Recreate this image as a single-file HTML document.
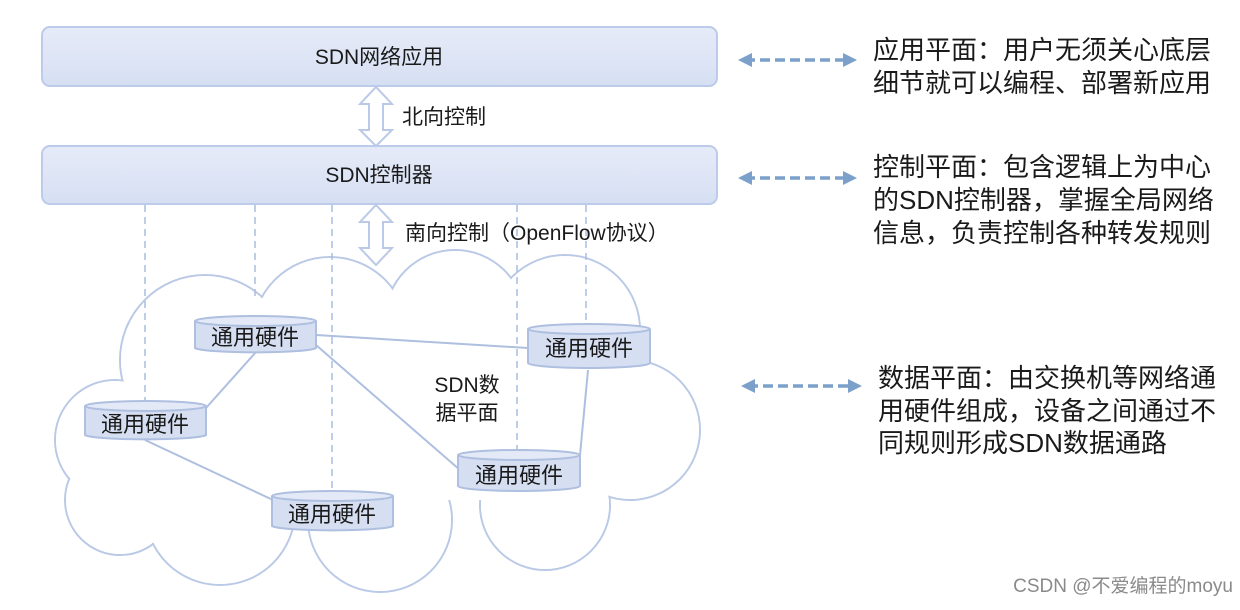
<!DOCTYPE html>
<html><head><meta charset="utf-8"><style>
body{margin:0;background:#fff;}
svg text{font-family:"Liberation Sans","Noto Sans CJK SC",sans-serif;fill:#1a1a1a;}
</style></head><body>
<svg width="1240" height="605" viewBox="0 0 1240 605" xmlns="http://www.w3.org/2000/svg">
<defs>
<linearGradient id="bar" x1="0" y1="0" x2="0" y2="1"><stop offset="0" stop-color="#e6ebf8"/><stop offset="1" stop-color="#d6dff3"/></linearGradient>
<marker id="ah" viewBox="0 0 10 10" refX="5" refY="5" markerWidth="4" markerHeight="4" orient="auto-start-reverse"><path d="M0,0 L10,5 L0,10 z" fill="#7ba0c9"/></marker>
</defs>
<g stroke="#b9c9e6" stroke-width="2" fill="none">
<circle cx="115" cy="440" r="60"/><circle cx="205" cy="360" r="85"/><circle cx="330" cy="335" r="78"/>
<circle cx="455" cy="320" r="70"/><circle cx="565" cy="330" r="75"/><circle cx="630" cy="430" r="70"/>
<circle cx="545" cy="505" r="65"/><circle cx="380" cy="520" r="72"/><circle cx="220" cy="510" r="75"/><circle cx="120" cy="500" r="55"/>
</g>
<g fill="#fff">
<circle cx="115" cy="440" r="59"/><circle cx="205" cy="360" r="84"/><circle cx="330" cy="335" r="77"/>
<circle cx="455" cy="320" r="69"/><circle cx="565" cy="330" r="74"/><circle cx="630" cy="430" r="69"/>
<circle cx="545" cy="505" r="64"/><circle cx="380" cy="520" r="71"/><circle cx="220" cy="510" r="74"/><circle cx="120" cy="500" r="54"/>
<rect x="150" y="350" width="440" height="150"/>
</g>
<g stroke="#a9bde0" stroke-width="1.5" stroke-dasharray="7,5">
<line x1="145" y1="205" x2="145" y2="400"/><line x1="255" y1="205" x2="255" y2="297"/>
<line x1="332" y1="205" x2="332" y2="490"/><line x1="517" y1="205" x2="517" y2="450"/><line x1="586" y1="205" x2="586" y2="323"/>
</g>
<g stroke="#aebfe0" stroke-width="2">
<line x1="316" y1="335" x2="528" y2="348"/><line x1="256" y1="352" x2="206" y2="408"/>
<line x1="316" y1="345" x2="460" y2="470"/><line x1="145" y1="440" x2="273" y2="500"/><line x1="588" y1="370" x2="580" y2="455"/>
</g>
<rect x="42" y="27" width="675" height="59" rx="8" fill="url(#bar)" stroke="#bccbea" stroke-width="2"/>
<rect x="42" y="146" width="675" height="58" rx="8" fill="url(#bar)" stroke="#bccbea" stroke-width="2"/>
<text x="379" y="64" font-size="21" text-anchor="middle">SDN网络应用</text>
<text x="379" y="182" font-size="21" text-anchor="middle">SDN控制器</text>
<g fill="#fff" stroke="#b9c9e6" stroke-width="2">
<path d="M376,87 L392,104 L383,104 L383,130 L392,130 L376,146 L360,130 L369,130 L369,104 L360,104 Z"/>
<path d="M376,205 L392,222 L383,222 L383,248 L392,248 L376,265 L360,248 L369,248 L369,222 L360,222 Z"/>
</g>
<text x="402" y="124" font-size="21">北向控制</text>
<text x="405" y="240" font-size="21">南向控制（OpenFlow协议）</text>
<g font-size="22" text-anchor="middle">
<g transform="translate(195,315)"><path d="M0,6 L0,33 A61,5 0 0 0 121,33 L121,6" fill="#d6dff2" stroke="#aebfe0" stroke-width="2"/><ellipse cx="60.5" cy="6" rx="60.5" ry="5" fill="#e3e9f6" stroke="#aebfe0" stroke-width="2"/><text x="60" y="30">通用硬件</text></g>
<g transform="translate(528,323)"><path d="M0,6 L0,40 A61,5 0 0 0 122,40 L122,6" fill="#d6dff2" stroke="#aebfe0" stroke-width="2"/><ellipse cx="61" cy="6" rx="61" ry="5" fill="#e3e9f6" stroke="#aebfe0" stroke-width="2"/><text x="61" y="33">通用硬件</text></g>
<g transform="translate(85,400)"><path d="M0,6 L0,35 A61,5 0 0 0 121,35 L121,6" fill="#d6dff2" stroke="#aebfe0" stroke-width="2"/><ellipse cx="60.5" cy="6" rx="60.5" ry="5" fill="#e3e9f6" stroke="#aebfe0" stroke-width="2"/><text x="60" y="32">通用硬件</text></g>
<g transform="translate(458,449)"><path d="M0,6 L0,37 A61,5 0 0 0 122,37 L122,6" fill="#d6dff2" stroke="#aebfe0" stroke-width="2"/><ellipse cx="61" cy="6" rx="61" ry="5" fill="#e3e9f6" stroke="#aebfe0" stroke-width="2"/><text x="61" y="34">通用硬件</text></g>
<g transform="translate(272,490)"><path d="M0,6 L0,36 A61,5 0 0 0 121,36 L121,6" fill="#d6dff2" stroke="#aebfe0" stroke-width="2"/><ellipse cx="60.5" cy="6" rx="60.5" ry="5" fill="#e3e9f6" stroke="#aebfe0" stroke-width="2"/><text x="60" y="32">通用硬件</text></g>
</g>
<text x="467" y="392" font-size="21" text-anchor="middle">SDN数</text>
<text x="467" y="420" font-size="21" text-anchor="middle">据平面</text>
<g stroke="#7ba0c9" stroke-width="3.5" stroke-dasharray="10,5" marker-start="url(#ah)" marker-end="url(#ah)">
<line x1="745" y1="60" x2="850" y2="60"/><line x1="745" y1="178" x2="850" y2="178"/><line x1="748" y1="386" x2="855" y2="386"/>
</g>
<g font-size="26">
<text x="873" y="59">应用平面：用户无须关心底层</text>
<text x="873" y="92">细节就可以编程、部署新应用</text>
<text x="873" y="176">控制平面：包含逻辑上为中心</text>
<text x="873" y="209">的SDN控制器，掌握全局网络</text>
<text x="873" y="242">信息，负责控制各种转发规则</text>
<text x="878" y="387">数据平面：由交换机等网络通</text>
<text x="878" y="420">用硬件组成，设备之间通过不</text>
<text x="878" y="452">同规则形成SDN数据通路</text>
</g>
<text x="1233" y="592" font-size="19" text-anchor="end" style="fill:#8a8a8a">CSDN @不爱编程的moyu</text>
</svg>
</body></html>
